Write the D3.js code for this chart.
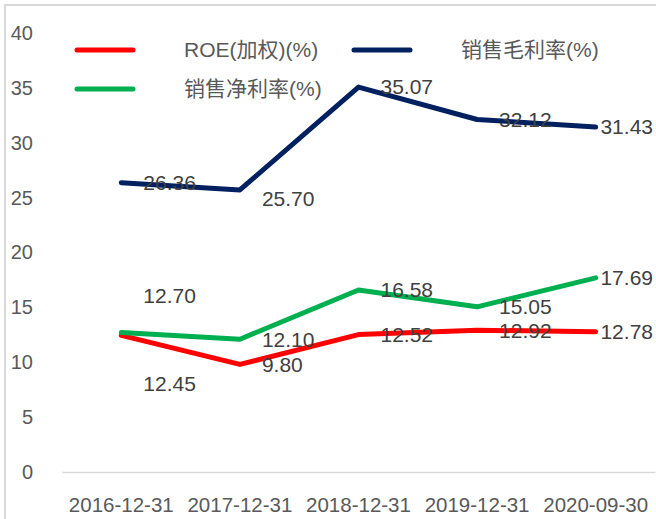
<!DOCTYPE html>
<html>
<head>
<meta charset="utf-8">
<script src="https://cdn.jsdelivr.net/npm/d3@7"></script>
<style>
  body { margin: 0; background: #fff; }
  svg text { font-family: 'Liberation Sans', 'Noto Sans CJK SC', sans-serif; }
</style>
</head>
<body>
<svg id="chart" width="656" height="519"></svg>
<script>
// data
const dates = ['2016-12-31', '2017-12-31', '2018-12-31', '2019-12-31', '2020-09-30'];
const roe = [12.45, 9.80, 12.52, 12.92, 12.78];
const grossMargin = [26.36, 25.70, 35.07, 32.12, 31.43];
const netMargin = [12.70, 12.10, 16.58, 15.05, 17.69];
const yTicks = [0, 5, 10, 15, 20, 25, 30, 35, 40];

const series = [
  { name: 'ROE(加权)(%)', values: roe, color: '#ff0000' },
  { name: '销售毛利率(%)', values: grossMargin, color: '#002060' },
  { name: '销售净利率(%)', values: netMargin, color: '#00b050' }
];

// a few labels sit off to the side so they don't collide
const labelNudge = {
  'ROE(加权)(%)|0': [0, 48],
  '销售净利率(%)|0': [0, -37],
  '销售毛利率(%)|1': [0, 9]
};

const svg = d3.select('#chart');

// outer frame (only top/left visible in the picture)
svg.append('rect')
  .attr('x', 5)
  .attr('y', 5)
  .attr('width', 700)
  .attr('height', 600)
  .attr('fill', 'none')
  .attr('stroke', '#d9d9d9')
  .attr('stroke-width', 2);

const x = d3.scaleBand().domain(dates).range([62, 655]).padding(0);
const y = d3.scaleLinear().domain([0, 40]).range([472, 33]);
const cx = d => x(d) + x.bandwidth() / 2;

// y axis
const yAxis = svg.append('g')
  .attr('transform', 'translate(36, 0)')
  .call(d3.axisLeft(y).tickValues(yTicks).tickSize(0).tickPadding(3));
yAxis.select('.domain').remove();
yAxis.selectAll('text')
  .attr('fill', '#595959')
  .style('font-size', '20px');

// x axis
const xAxis = svg.append('g')
  .attr('transform', `translate(0, ${y(0)})`)
  .call(d3.axisBottom(x).tickSize(0).tickPadding(25));
xAxis.select('.domain')
  .attr('stroke', '#d9d9d9')
  .attr('stroke-width', 1.5);
xAxis.selectAll('text')
  .attr('fill', '#595959')
  .style('font-size', '20.5px');

const line = d3.line()
  .x((d, i) => cx(dates[i]))
  .y(d => y(d));

series.forEach(s => {
  svg.append('path')
    .datum(s.values)
    .attr('fill', 'none')
    .attr('stroke', s.color)
    .attr('stroke-width', 5)
    .attr('stroke-linejoin', 'round')
    .attr('stroke-linecap', 'round')
    .attr('d', line);
});

// data labels, kept inside the chart's right edge
const rightEdge = 653;
series.forEach(s => {
  svg.append('g')
    .selectAll('text')
    .data(s.values)
    .join('text')
    .attr('y', (d, i) => y(d) + (labelNudge[s.name + '|' + i] || [0, 0])[1])
    .attr('dy', '0.35em')
    .attr('fill', '#404040')
    .style('font-size', '21px')
    .text(d => d.toFixed(2))
    .attr('x', function (d, i) {
      const w = this.getComputedTextLength();
      const want = cx(dates[i]) + 22 + (labelNudge[s.name + '|' + i] || [0, 0])[0];
      return Math.min(want, rightEdge - w);
    });
});

// legend
const legendPos = [[77, 50], [354, 50], [77, 89]];
const legend = svg.append('g')
  .selectAll('g')
  .data(series)
  .join('g')
  .attr('transform', (d, i) => `translate(${legendPos[i][0]}, ${legendPos[i][1]})`);
legend.append('line')
  .attr('x1', 0)
  .attr('x2', 56)
  .attr('stroke', d => d.color)
  .attr('stroke-width', 5)
  .attr('stroke-linecap', 'round');
legend.append('text')
  .attr('x', 107)
  .attr('dy', '0.35em')
  .attr('fill', '#595959')
  .style('font-size', '21px')
  .text(d => d.name);
</script>
</body>
</html>
